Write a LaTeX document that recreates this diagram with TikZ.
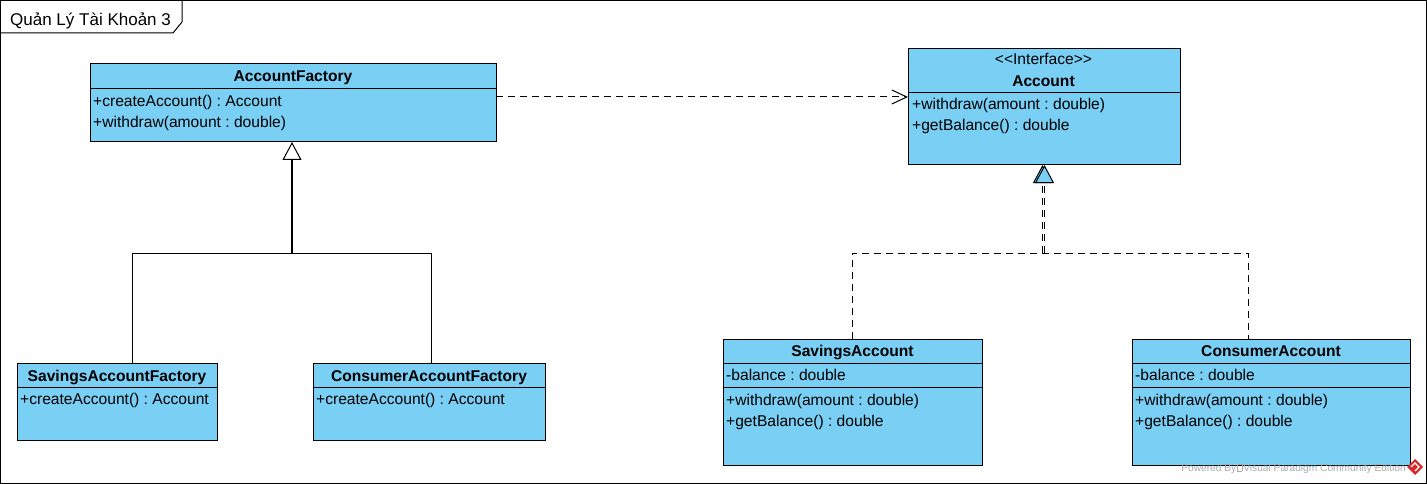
\documentclass[tikz,border=0pt]{standalone}
\usepackage{fontspec}
\setmainfont{Liberation Sans}
\usetikzlibrary{arrows.meta}
\definecolor{classfill}{RGB}{122,207,245}
\definecolor{wmgray}{RGB}{170,170,170}
\definecolor{wmred}{RGB}{215,40,40}
\frenchspacing

\begin{document}
\begin{tikzpicture}[x=1pt,y=-1pt,
  classbox/.style={draw=black, line width=1pt, fill=classfill, rectangle,
    inner sep=0pt, outer sep=0pt, anchor=north west},
  divider/.style={draw=black, line width=1pt},
  classname/.style={font=\fontsize{15.6}{18}\selectfont\bfseries, anchor=base, inner sep=0pt},
  stereo/.style={font=\fontsize{15.6}{18}\selectfont, anchor=base, inner sep=0pt},
  member/.style={font=\fontsize{15.6}{18}\selectfont, anchor=base west, inner sep=0pt},
  tree/.style={draw=black, line width=1pt},
  gen/.style={draw=black, line width=1.8pt,
    -{Triangle[length=18pt, width=19pt, fill=white, line width=1pt]}},
  dashln/.style={draw=black, line width=1pt, dash pattern=on 7pt off 5pt},
  real/.style={dashln,
    -{Triangle[length=18pt, width=19pt, fill=classfill, line width=1pt]}},
  dep/.style={dashln, -{Straight Barb[length=15pt, width=14pt, line width=1pt]}},
]
\useasboundingbox (0,0) rectangle (1427,484);

% diagram frame and its name tab
\draw[line width=1pt] (0.5,0.5) rectangle (1426.5,483.5);
\draw[line width=1pt] (0.5,33) -- (173,33) -- (182,22) -- (182,0.5);
\node[font=\fontsize{17}{20}\selectfont, anchor=base west, inner sep=0pt]
  (frametitle) at (10,25.5) {Quản Lý Tài Khoản 3};

% ---- AccountFactory
\node[classbox, minimum width=406pt, minimum height=78pt] (af) at (90,64) {};
\draw[divider] (af.west |- 0,89) -- (af.east |- 0,89);
\node[classname] (afname) at (293,82) {AccountFactory};
\node[member] (afop1) at (93,107) {+createAccount() : Account};
\node[member] (afop2) at (93,128) {+withdraw(amount : double)};

% ---- Account interface
\node[classbox, minimum width=272pt, minimum height=116pt] (acc) at (908,49) {};
\draw[divider] (acc.west |- 0,93) -- (acc.east |- 0,93);
\node[stereo] (accst) at (1043.5,65) {<\kern0pt<Interface>\kern0pt>};
\node[classname] (accname) at (1043.5,87) {Account};
\node[member] (accop1) at (912,110) {+withdraw(amount : double)};
\node[member] (accop2) at (912,131) {+getBalance() : double};

% ---- SavingsAccountFactory
\node[classbox, minimum width=200pt, minimum height=77pt] (saf) at (17,363) {};
\draw[divider] (saf.west |- 0,387) -- (saf.east |- 0,387);
\node[classname] (safname) at (117,381) {SavingsAccountFactory};
\node[member] (safop1) at (20,404) {+createAccount() : Account};

% ---- ConsumerAccountFactory
\node[classbox, minimum width=232pt, minimum height=77pt] (caf) at (313,363) {};
\draw[divider] (caf.west |- 0,387) -- (caf.east |- 0,387);
\node[classname] (cafname) at (429,381) {ConsumerAccountFactory};
\node[member] (cafop1) at (316,404) {+createAccount() : Account};

% ---- SavingsAccount
\node[classbox, minimum width=259pt, minimum height=126pt] (sa) at (723,339) {};
\draw[divider] (sa.west |- 0,363) -- (sa.east |- 0,363);
\draw[divider] (sa.west |- 0,387) -- (sa.east |- 0,387);
\node[classname] (saname) at (852.5,356) {SavingsAccount};
\node[member] (saat1) at (726,380) {-balance : double};
\node[member] (saop1) at (726,405) {+withdraw(amount : double)};
\node[member] (saop2) at (726,426) {+getBalance() : double};

% ---- ConsumerAccount
\node[classbox, minimum width=278pt, minimum height=126pt] (ca) at (1132,339) {};
\draw[divider] (ca.west |- 0,363) -- (ca.east |- 0,363);
\draw[divider] (ca.west |- 0,387) -- (ca.east |- 0,387);
\node[classname] (caname) at (1271,356) {ConsumerAccount};
\node[member] (caat1) at (1135,380) {-balance : double};
\node[member] (caop1) at (1135,405) {+withdraw(amount : double)};
\node[member] (caop2) at (1135,426) {+getBalance() : double};

% ---- generalization tree: factories -> AccountFactory
\coordinate (gj) at (292,253);
\coordinate (gs) at (132,253);
\coordinate (gc) at (431,253);
\draw[tree] (gs |- saf.north) -- (gs) -- (gc) -- (gc |- caf.north);
\draw[gen] (gj) -- (gj |- af.south);

% ---- realization tree: accounts -> Account
\coordinate (rs) at (852,253);
\coordinate (rc) at (1248,253);
\coordinate (rjl) at (1042.5,253);
\coordinate (rjr) at (1044.5,253);
\draw[dashln] (rs |- sa.north) -- (rs) -- (rc) -- (rc |- ca.north);
\draw[real] (rjl) -- (rjl |- acc.south);
\draw[real] (rjr) -- (rjr |- acc.south);

% ---- tool watermark
\node[font=\fontsize{10.2}{12}\selectfont, text=wmgray, anchor=base east, inner sep=0pt]
  (wm) at (1406,471)
  {Powered By\hspace{1pt}{\color{wmgray}\fboxsep=0pt\fboxrule=0.5pt\fbox{\rule{0pt}{6.5pt}\hspace{4pt}}}\hspace{1pt}Visual Paradigm Community Edition};
\fill[wmred] (1415,459) -- (1423,467) -- (1415,475) -- (1407,467) -- cycle;
\draw[white, line width=1.2pt] (1411,467) -- (1415,463) -- (1419,467) -- (1415,471);

% ---- dependency: AccountFactory -> Account
\draw[dep] (af.east |- 0,97) -- (acc.west |- 0,97);
\end{tikzpicture}
\end{document}
